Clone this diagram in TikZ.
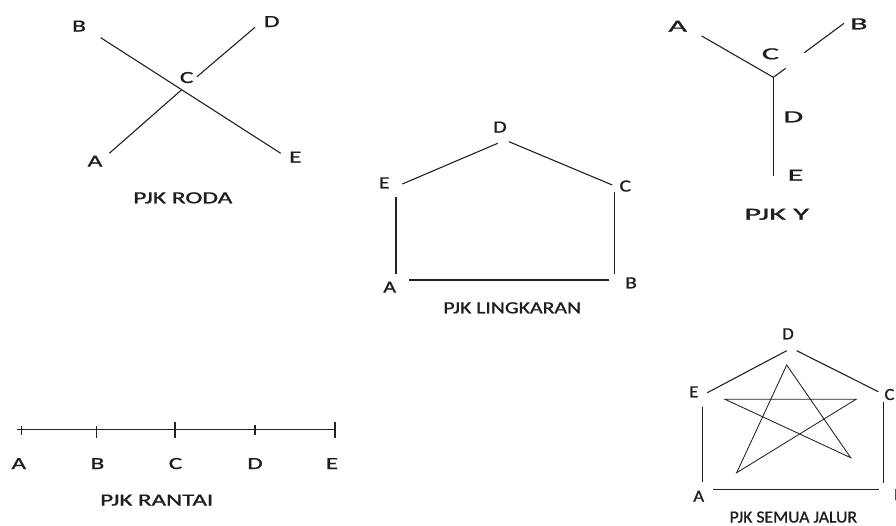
\documentclass[tikz,border=0pt]{standalone}
\usepackage{fontspec}
\setmainfont{Carlito}
\newfontfamily\lblfont[FakeBold=0.9]{Carlito}
\usepackage{graphicx}
\definecolor{ink}{HTML}{1E1E1E}
\definecolor{edgecol}{HTML}{222222}
\newcommand{\sx}[2]{\scalebox{#1}[1]{#2}}
\begin{document}
\begin{tikzpicture}[x=1pt,y=-1pt,
  lbl/.style={anchor=base, inner sep=0pt, text=ink, font=\lblfont\fontsize{17}{20}\selectfont},
  edge/.style={draw=edgecol, line width=1.1pt},
  thinedge/.style={draw=edgecol, line width=0.85pt}]
\fill[white] (0,0) rectangle (896,525);
\useasboundingbox (0,0) rectangle (896,525);

% ---------------- PJK RODA ----------------
\node[lbl] (rodaB) at (79,31.5) {\sx{1.5}{B}};
\node[lbl] (rodaD) at (271.7,27) {\sx{1.5}{D}};
\node[lbl] (rodaC) at (186.7,83) {\sx{1.5}{C}};
\node[lbl] (rodaA) at (95,166.5) {\sx{1.5}{A}};
\node[lbl] (rodaE) at (295.3,162.5) {\sx{1.5}{E}};
\node[lbl] (rodaT) at (182.8,203.3) {\sx{1.5}{PJK RODA}};
\coordinate (rb) at (100.7,37.7);
\coordinate (re) at (280.7,153.3);
\coordinate (ra) at (109.3,153.3);
\coordinate (rd) at (255,27.3);
\coordinate (rx) at (181.7,89.7);
\draw[edge] (rb) -- (re);
\draw[edge] (ra) -- (rx);
\draw[edge, shorten <=20pt] (rx) -- (rd);

% ---------------- PJK LINGKARAN ----------------
\node[lbl] (linD) at (500,132.5) {\sx{1.28}{D}};
\node[lbl] (linE) at (384.3,188.3) {\sx{1.28}{E}};
\node[lbl] (linC) at (625.3,191.5) {\sx{1.28}{C}};
\node[lbl] (linA) at (389.7,292.5) {\sx{1.28}{A}};
\node[lbl] (linB) at (631,288.3) {\sx{1.28}{B}};
\node[lbl] (linT) at (512.2,313.3) {\sx{1.28}{PJK LINGKARAN}};
\coordinate (le1) at (402.3,184);
\coordinate (ld1) at (497.7,143.3);
\coordinate (ld2) at (509,141.7);
\coordinate (lc1) at (612.3,185);
\coordinate (lc2) at (614.3,191.7);
\coordinate (lb1) at (614.3,274.3);
\coordinate (lb2) at (609.3,280);
\coordinate (la2) at (409.3,280);
\coordinate (la1) at (396,274.3);
\coordinate (le2) at (396,197.3);
\draw[edge] (le1) -- (ld1);
\draw[edge] (ld2) -- (lc1);
\draw[edge] (lc2) -- (lb1);
\draw[edge] (lb2) -- (la2);
\draw[edge] (la1) -- (le2);

% ---------------- PJK Y ----------------
\node[lbl] (yA) at (677.7,31.7) {\sx{1.9}{A}};
\node[lbl] (yB) at (858.8,29.3) {\sx{1.9}{B}};
\node[lbl] (yC) at (770.5,59.3) {\sx{1.9}{C}};
\node[lbl] (yD) at (793.3,122.3) {\sx{1.9}{D}};
\node[lbl] (yE) at (795.5,180.7) {\sx{1.9}{E}};
\node[lbl] (yT) at (776.7,219.7) {\sx{1.9}{PJK Y}};
\coordinate (ya) at (701.7,36);
\coordinate (yx) at (773.3,77.3);
\coordinate (ystub) at (785.7,68.3);
\coordinate (yb1) at (804.3,52.7);
\coordinate (yb2) at (844,23.3);
\coordinate (ye) at (773.3,175.7);
\draw[edge] (ya) -- (yx);
\draw[edge] (yx) -- (ystub);
\draw[edge] (yb1) -- (yb2);
\draw[edge, line width=1.4pt] (yx) -- (ye);

% ---------------- PJK RANTAI ----------------
\node[lbl] (raA) at (18.8,469) {\sx{1.47}{A}};
\node[lbl] (raB) at (97.5,469) {\sx{1.47}{B}};
\node[lbl] (raC) at (175.5,469) {\sx{1.47}{C}};
\node[lbl] (raD) at (255,469) {\sx{1.47}{D}};
\node[lbl] (raE) at (332,469) {\sx{1.47}{E}};
\node[lbl] (raT) at (156.7,505.5) {\sx{1.47}{PJK RANTAI}};
\coordinate (rl0) at (16.7,429.3);
\coordinate (rl1) at (335,429.3);
\draw[edge] (rl0) -- (rl1);
\coordinate (tA1) at (21.7,426);   \coordinate (tA2) at (21.7,435);
\coordinate (tB1) at (96.7,426);   \coordinate (tB2) at (96.7,438.3);
\coordinate (tC1) at (175,421.7);  \coordinate (tC2) at (175,438.3);
\coordinate (tD1) at (255,425);    \coordinate (tD2) at (255,435);
\coordinate (tE1) at (335,421.7);  \coordinate (tE2) at (335,438.3);
\draw[edge] (tA1) -- (tA2);
\draw[edge] (tB1) -- (tB2);
\draw[edge] (tC1) -- (tC2);
\draw[edge] (tD1) -- (tD2);
\draw[edge] (tE1) -- (tE2);

% ---------------- PJK SEMUA JALUR ----------------
\node[lbl] (sD) at (788,339.3) {\sx{1.1}{D}};
\node[lbl] (sE) at (693.8,397.3) {\sx{1.1}{E}};
\node[lbl] (sC) at (889.5,400) {\sx{1.1}{C}};
\node[lbl] (sA) at (698.7,501.7) {\sx{1.1}{A}};
\node[lbl] (sB) at (899,500) {\sx{1.1}{B}};
\node[lbl] (sT) at (793.3,522.5) {\sx{1.04}{PJK SEMUA JALUR}};
\coordinate (se1) at (707.3,392.7);
\coordinate (sd1) at (786.7,350.7);
\coordinate (sd2) at (796.7,350.7);
\coordinate (sc1) at (878.3,391.7);
\coordinate (se2) at (702.7,406.7);
\coordinate (sa1) at (702.7,481.7);
\coordinate (sc2) at (883.3,401.7);
\coordinate (sb1) at (883.3,483.3);
\coordinate (sa2) at (713.3,489.3);
\coordinate (sb2) at (879.3,489.3);
\draw[edge] (se1) -- (sd1);
\draw[edge] (sd2) -- (sc1);
\draw[edge] (se2) -- (sa1);
\draw[edge] (sc2) -- (sb1);
\draw[edge] (sa2) -- (sb2);
\coordinate (stT) at (786.7,365);
\coordinate (stLT) at (725,399.3);
\coordinate (stRT) at (856,399.3);
\coordinate (stBL) at (736.7,472.7);
\coordinate (stBR) at (850.7,457.7);
\draw[thinedge, line join=miter] (stT) -- (stBL) -- (stRT) -- (stLT) -- (stBR) -- cycle;
\end{tikzpicture}
\end{document}
